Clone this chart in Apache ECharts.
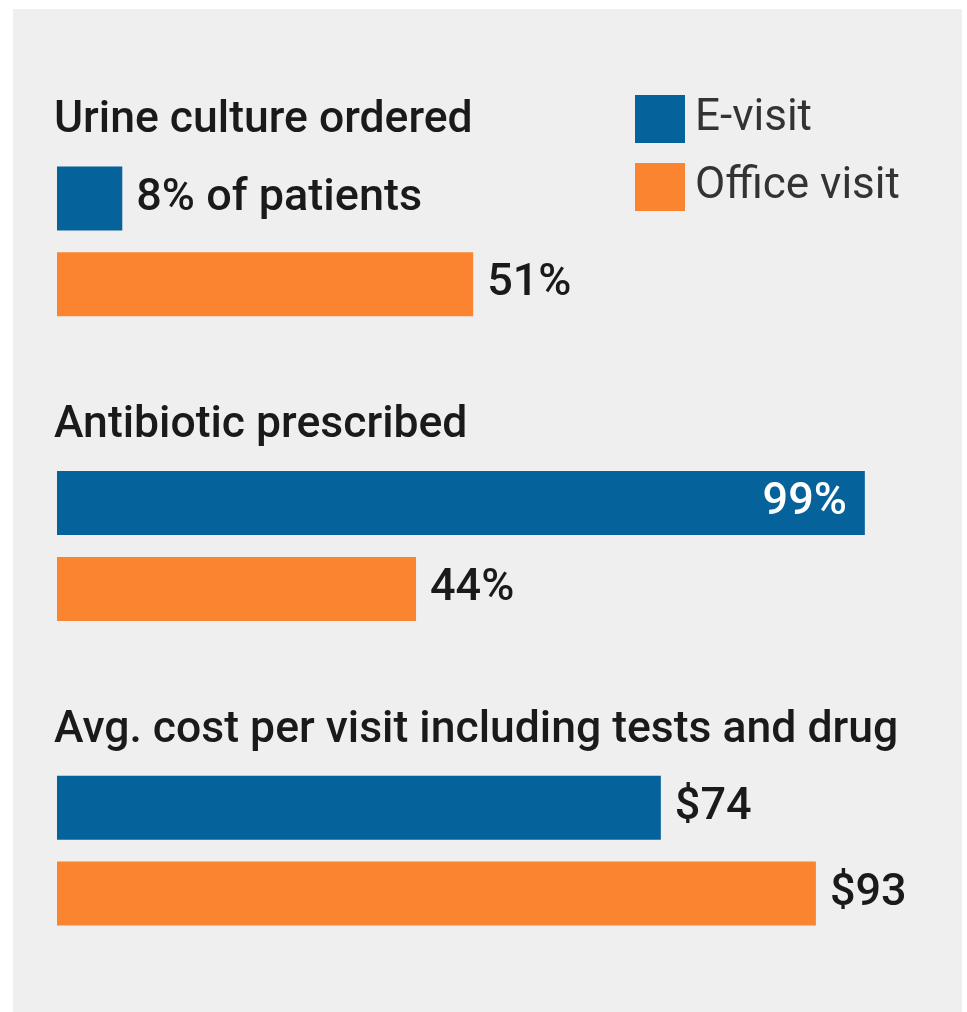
<!DOCTYPE html>
<html>
<head>
<meta charset="utf-8">
<script src="https://cdn.jsdelivr.net/npm/echarts@6/dist/echarts.min.js"></script>
<style>
html,body{margin:0;padding:0;background:#fff;}
#chart{width:967px;height:1012px;}
</style>
</head>
<body>
<div id="chart"></div>
<script>
const categories = ['Urine culture ordered', 'Antibiotic prescribed', 'Avg. cost per visit including tests and drug'];
const seriesNames = ['E-visit', 'Office visit'];
const eVisitValues = [8, 99, 74];
const officeValues = [51, 44, 93];
const eVisitLabels = ['8% of patients', '99%', '$74'];
const officeLabels = ['51%', '44%', '$93'];

const FONT = 'Roboto, "Liberation Sans", sans-serif';
const BLUE = '#05629a';
const ORANGE = '#fa8430';

const chart = echarts.init(document.getElementById('chart'), null, {renderer: 'canvas'});

function makeData(values, labels, series) {
  return values.map((v, i) => {
    const item = {value: v, labelText: labels[i]};
    if (series === 0 && v > 90) {
      item.label = {position: 'insideRight', distance: 18, color: '#ffffff'};
    }
    return item;
  });
}

const option = {
  backgroundColor: '#ffffff',
  animation: false,
  graphic: [{
    type: 'rect', left: 13, top: 9, z: -10,
    shape: {width: 949, height: 1010},
    style: {fill: '#efefef'}
  }],
  legend: {
    data: seriesNames,
    orient: 'vertical',
    left: 635, top: 95,
    padding: 0,
    icon: 'rect',
    itemWidth: 50, itemHeight: 48,
    itemGap: 20,
    textStyle: {fontFamily: FONT, fontSize: 44, color: '#333333', fontWeight: 400, padding: [0, 0, 0, 5]}
  },
  grid: {left: 57, top: 89, width: 816, height: 914, containLabel: false},
  xAxis: {
    type: 'value', min: 0, max: 100, show: false
  },
  yAxis: {
    type: 'category', data: categories, inverse: true,
    axisLine: {show: false}, axisTick: {show: false}, splitLine: {show: false},
    axisLabel: {
      show: true, inside: true, interval: 0, margin: -3,
      verticalAlign: 'middle', align: 'left',
      formatter: v => '{t|' + v + '}\n{s|}',
      rich: {
        t: {fontFamily: FONT, fontSize: 44.5, fontWeight: 500, color: '#1a1a1a', lineHeight: 50},
        s: {fontSize: 10, lineHeight: 240}
      }
    }
  },
  series: [
    {
      name: seriesNames[0], type: 'bar',
      barWidth: 64, barGap: '34%',
      itemStyle: {color: BLUE},
      label: {
        show: true, position: 'right', distance: 14,
        fontFamily: FONT, fontSize: 45, fontWeight: 500, color: '#1a1a1a',
        formatter: p => p.data.labelText
      },
      data: makeData(eVisitValues, eVisitLabels, 0)
    },
    {
      name: seriesNames[1], type: 'bar',
      barWidth: 64, barGap: '34%',
      itemStyle: {color: ORANGE},
      label: {
        show: true, position: 'right', distance: 14,
        fontFamily: FONT, fontSize: 45, fontWeight: 500, color: '#1a1a1a',
        formatter: p => p.data.labelText
      },
      data: makeData(officeValues, officeLabels, 1)
    }
  ]
};
chart.setOption(option);
</script>
</body>
</html>
